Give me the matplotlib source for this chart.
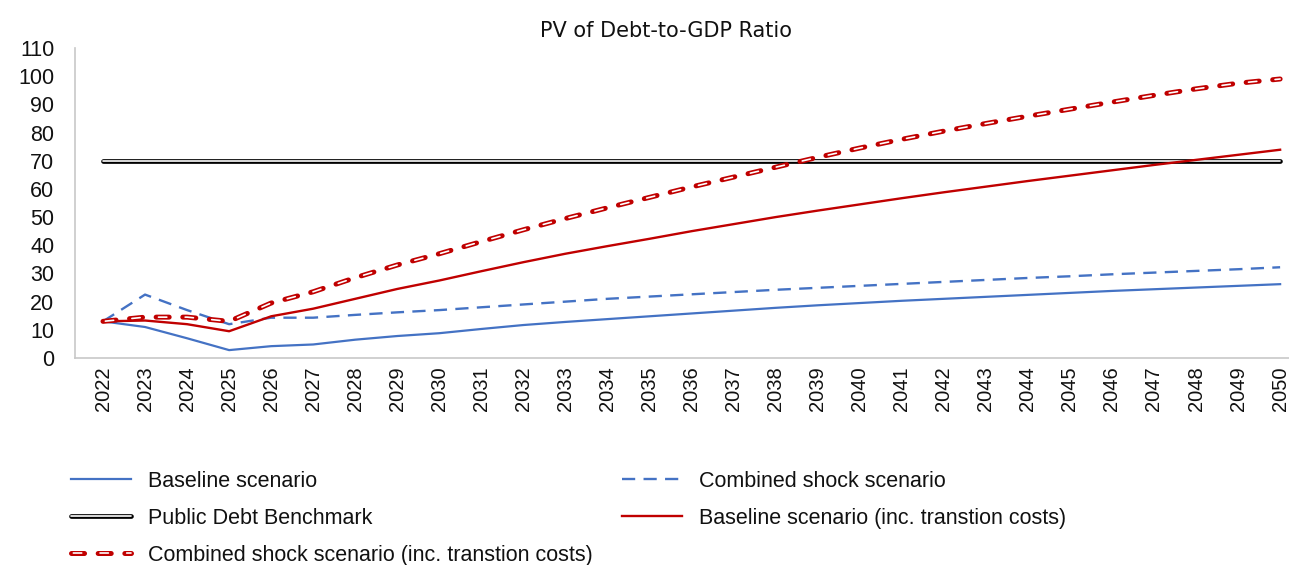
import numpy as np
import matplotlib.pyplot as plt

plt.rcParams['lines.scale_dashes'] = False
plt.rcParams['font.family'] = ['Liberation Sans', 'DejaVu Sans']

years = list(range(2022, 2051))

baseline = [13.0, 11.0, 7.0, 2.8, 4.2, 4.8, 6.5, 7.8, 8.8, 10.3, 11.7, 12.8, 13.8, 14.8,
            15.8, 16.8, 17.8, 18.7, 19.5, 20.3, 21.0, 21.7, 22.4, 23.1, 23.8, 24.4,
            25.0, 25.6, 26.2]
combined = [13.0, 22.5, 17.0, 12.0, 14.3, 14.3, 15.3, 16.2, 17.0, 18.0, 19.0, 20.0, 21.0,
            21.8, 22.6, 23.4, 24.2, 24.9, 25.6, 26.3, 27.0, 27.7, 28.4, 29.0, 29.7, 30.3,
            30.9, 31.5, 32.2]
benchmark = [70] * len(years)
baseline_tc = [13.0, 13.3, 12.0, 9.5, 14.8, 17.5, 21.0, 24.5, 27.5, 30.8, 34.0, 37.0,
               39.7, 42.3, 45.0, 47.5, 50.0, 52.3, 54.5, 56.7, 58.8, 60.8, 62.8, 64.7,
               66.6, 68.5, 70.3, 72.1, 73.9]
combined_tc = [13.0, 14.5, 14.5, 13.0, 19.5, 23.5, 28.5, 33.0, 37.0, 41.3, 45.5, 49.5,
               53.3, 57.0, 60.7, 64.2, 67.7, 71.2, 74.5, 77.6, 80.5, 83.2, 85.8, 88.3,
               90.8, 93.2, 95.5, 97.5, 99.0]

blue = '#4472C4'
red = '#C00000'

fig = plt.figure(figsize=(12.89, 5.65), dpi=100)
ax = fig.add_axes([75 / 1289, 1 - 358 / 565, (1289 - 75) / 1289, 310 / 565])

x = np.arange(len(years))

l_base, = ax.plot(x, baseline, color=blue, lw=1.6)
l_comb, = ax.plot(x, combined, color=blue, lw=1.7, linestyle=(0, (9.5, 6)))

# benchmark drawn as a double line: black outline, white core
b_out, = ax.plot(x, benchmark, color='black', lw=3.4, solid_capstyle='round')
b_in, = ax.plot(x, benchmark, color='white', lw=1.2, solid_capstyle='round')

l_btc, = ax.plot(x, baseline_tc, color=red, lw=1.7)

# hollow red dashes
c_out, = ax.plot(x, combined_tc, color=red, lw=3.6, linestyle=(0, (9.4, 9.8)),
                 dash_capstyle='round')
c_in, = ax.plot(x, combined_tc, color='white', lw=1.2, linestyle=(17.5, (6, 13.2)),
                dash_capstyle='round')

ax.set_xlim(-28 / 42.04, (1289 - 103) / 42.04)
ax.set_ylim(0, 110)
ax.set_yticks(range(0, 111, 10))
ax.set_xticks(x)
ax.set_xticklabels([str(y) for y in years], rotation=90)
ax.tick_params(axis='both', length=0, colors='#111111')
ax.tick_params(axis='y', pad=15, labelsize=15.5)
ax.tick_params(axis='x', pad=6, labelsize=14.5)
for s in ['top', 'right']:
    ax.spines[s].set_visible(False)
for s in ['left', 'bottom']:
    ax.spines[s].set_color('#C8C8C8')
    ax.spines[s].set_linewidth(1.2)

fig.text(666 / 1289, 1 - 31 / 565, 'PV of Debt-to-GDP Ratio', ha='center', va='center',
         fontsize=15, family=['DejaVu Sans'], color='#111111')

handles = [l_base, (b_out, b_in), (c_out, c_in), l_comb, l_btc]
labels = ['Baseline scenario', 'Public Debt Benchmark',
          'Combined shock scenario (inc. transtion costs)',
          'Combined shock scenario', 'Baseline scenario (inc. transtion costs)']
leg = fig.legend(handles, labels, ncol=2, loc='upper left',
                 bbox_to_anchor=(62 / 1289, 1 - 462 / 565), frameon=False,
                 prop={'size': 15.5}, handlelength=2.8, handletextpad=0.8,
                 labelspacing=0.75, columnspacing=1.35, borderaxespad=0)
for t in leg.get_texts():
    t.set_color('#111111')

fig.savefig('out.png', dpi=100, facecolor='white')
